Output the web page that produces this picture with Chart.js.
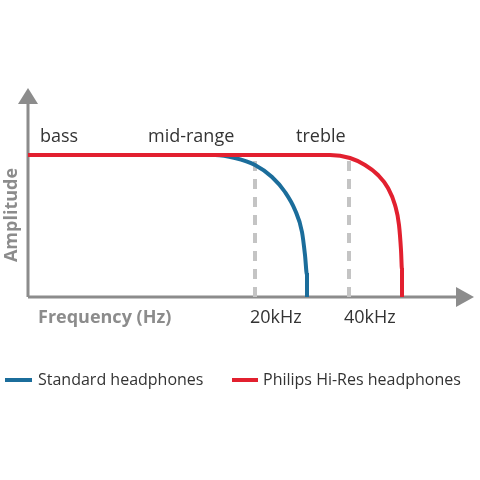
<!DOCTYPE html>
<html>
<head>
<script src="https://cdn.jsdelivr.net/npm/chart.js@4"></script>
<style>body{margin:0;background:#fff}canvas{display:block}</style>
</head>
<body>
<canvas id="c" width="480" height="480"></canvas>
<script>
// response curves, x in px from y-axis, y = amplitude units above x-axis
const redCurve = [[0,142],[302,142],[322,139],[337,132],[350,122],[360,109],[367,92],[371,72],[373,47],[374,27],[374,0]];
const blueCurve = [[0,142],[187,142],[207,139],[227,132],[244,120],[257,105],[267,87],[274,65],[277,42],[279,22],[279,0]];
const cutoffX = [227, 321];
const cutoffLabels = ["20kHz", "40kHz"];
const bandLabels = [["bass", 12], ["mid-range", 120], ["treble", 268]];
const RED = "#e2202f", BLUE = "#1b6d9b", GREY = "#8c8c8c";

const toPts = a => a.map(p => ({x: p[0], y: p[1]}));
const dashed = cutoffX.map(x => ({
  data: [{x: x, y: 0}, {x: x, y: 137}],
  borderColor: "#c4c4c4", borderWidth: 4, borderDash: [10, 8], pointRadius: 0, showLine: true
}));
const curve = (a, col) => ({
  data: toPts(a), borderColor: col, borderWidth: 4, pointRadius: 0, showLine: true,
  cubicInterpolationMode: "monotone"
});

const decor = {
  id: "decor",
  beforeDatasetsDraw(chart) {
    const c = chart.ctx, sx = chart.scales.x, sy = chart.scales.y;
    const x0 = sx.getPixelForValue(0), y0 = sy.getPixelForValue(0);
    c.save();
    c.strokeStyle = GREY; c.fillStyle = GREY; c.lineWidth = 3;
    c.beginPath(); c.moveTo(x0, y0); c.lineTo(x0, 102); c.moveTo(x0, y0); c.lineTo(458, y0); c.stroke();
    c.beginPath(); c.moveTo(x0 - 10, 104); c.lineTo(x0, 88); c.lineTo(x0 + 10, 104); c.fill();
    c.beginPath(); c.moveTo(456, y0 - 10); c.lineTo(474, y0); c.lineTo(456, y0 + 10); c.fill();
    c.restore();
  },
  afterDraw(chart) {
    const c = chart.ctx, sx = chart.scales.x;
    c.save();
    c.textBaseline = "middle";
    c.font = "18px 'Open Sans'"; c.fillStyle = "#333";
    bandLabels.forEach(b => c.fillText(b[0], sx.getPixelForValue(b[1]), 137));
    cutoffLabels.forEach((t, i) => c.fillText(t, sx.getPixelForValue(cutoffX[i]) - 5, 318));
    c.font = "bold 18px 'Open Sans'"; c.fillStyle = GREY;
    c.fillText("Frequency (Hz)", 38, 318);
    c.save(); c.translate(12, 215); c.rotate(-Math.PI / 2); c.textAlign = "center";
    c.fillText("Amplitude", 0, 0); c.restore();
    c.font = "16px 'Open Sans'"; c.fillStyle = "#333"; c.lineWidth = 4;
    c.strokeStyle = BLUE; c.beginPath(); c.moveTo(5, 380); c.lineTo(32, 380); c.stroke();
    c.fillText("Standard headphones", 38, 380);
    c.strokeStyle = RED; c.beginPath(); c.moveTo(232, 380); c.lineTo(258, 380); c.stroke();
    c.fillText("Philips Hi-Res headphones", 263, 380);
    c.restore();
  }
};

new Chart(document.getElementById("c"), {
  type: "scatter",
  data: {datasets: [
    curve(redCurve, RED),
    curve(blueCurve, BLUE),
    ...dashed
  ]},
  options: {
    responsive: false, animation: false,
    layout: {padding: {left: 28, right: 20, top: 97, bottom: 183}},
    scales: {x: {display: false, min: 0, max: 432}, y: {display: false, min: 0, max: 200}},
    plugins: {legend: {display: false}, tooltip: {enabled: false}}
  },
  plugins: [decor]
});
</script>
</body>
</html>
